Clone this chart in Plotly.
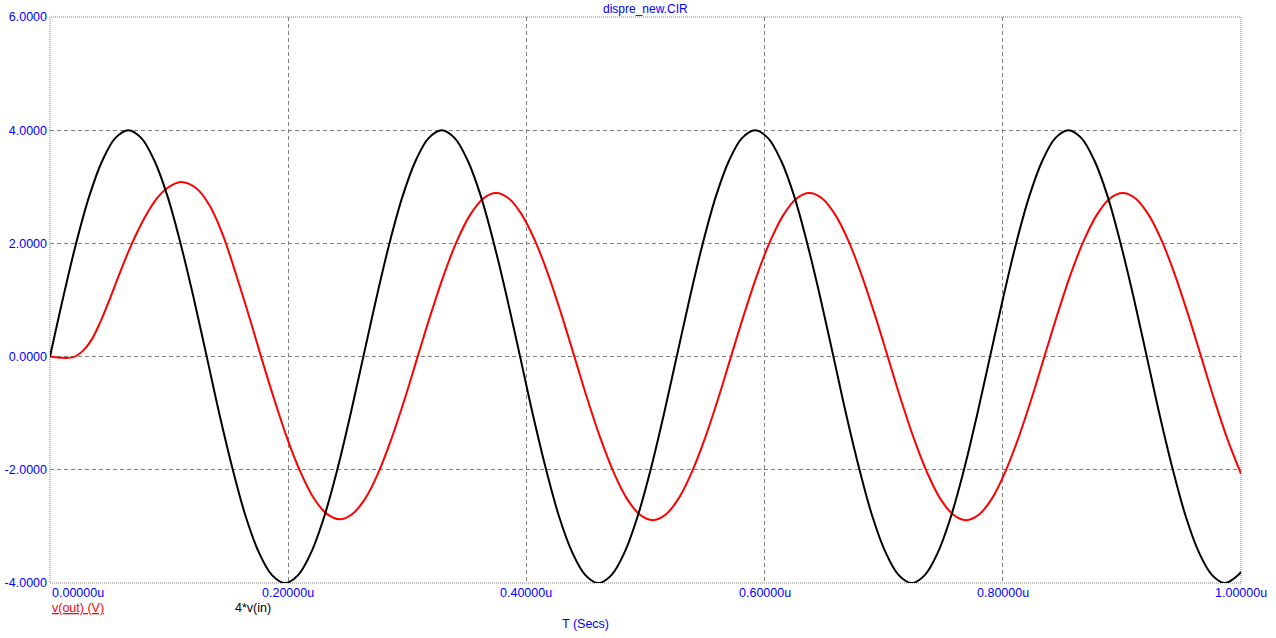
import plotly.graph_objects as go

# ---- data (time in microseconds) ----
vin4_t = [0.0000, 0.0110, 0.0219, 0.0329, 0.0439, 0.0548, 0.0658, 0.0767, 0.0877, 0.0987,
          0.1096, 0.1206, 0.1316, 0.1425, 0.1535, 0.1644, 0.1754, 0.1864, 0.1973, 0.2083,
          0.2193, 0.2302, 0.2412, 0.2521, 0.2631, 0.2741, 0.2850, 0.2960, 0.3070, 0.3179,
          0.3289, 0.3398, 0.3508, 0.3618, 0.3727, 0.3837, 0.3947, 0.4056, 0.4166, 0.4275,
          0.4385, 0.4495, 0.4604, 0.4714, 0.4824, 0.4933, 0.5043, 0.5152, 0.5262, 0.5372,
          0.5481, 0.5591, 0.5701, 0.5810, 0.5920, 0.6029, 0.6139, 0.6249, 0.6358, 0.6468,
          0.6578, 0.6687, 0.6797, 0.6906, 0.7016, 0.7126, 0.7235, 0.7345, 0.7455, 0.7564,
          0.7674, 0.7783, 0.7893, 0.8003, 0.8112, 0.8222, 0.8332, 0.8441, 0.8551, 0.8660,
          0.8770, 0.8880, 0.8989, 0.9099, 0.9209, 0.9318, 0.9428, 0.9537, 0.9647, 0.9757,
          0.9866, 0.9976, 1.0000]
vin4_v = [0.00, 1.04, 2.00, 2.83, 3.46, 3.86, 4.00, 3.86, 3.46, 2.83,
          2.00, 1.04, 0.00, -1.04, -2.00, -2.83, -3.46, -3.86, -4.00, -3.86,
          -3.46, -2.83, -2.00, -1.04, 0.00, 1.04, 2.00, 2.83, 3.46, 3.86,
          4.00, 3.86, 3.46, 2.83, 2.00, 1.04, 0.00, -1.04, -2.00, -2.83,
          -3.46, -3.86, -4.00, -3.86, -3.46, -2.83, -2.00, -1.04, 0.00, 1.04,
          2.00, 2.83, 3.46, 3.86, 4.00, 3.86, 3.46, 2.83, 2.00, 1.04,
          0.00, -1.04, -2.00, -2.83, -3.46, -3.86, -4.00, -3.86, -3.46, -2.83,
          -2.00, -1.04, 0.00, 1.04, 2.00, 2.83, 3.46, 3.86, 4.00, 3.86,
          3.46, 2.83, 2.00, 1.04, 0.00, -1.04, -2.00, -2.83, -3.46, -3.86,
          -4.00, -3.86, -3.80]

vout_t = [0.0000, 0.0084, 0.0196, 0.0280, 0.0350, 0.0420, 0.0504, 0.0588, 0.0672, 0.0728,
          0.0812, 0.0896, 0.0980, 0.1100, 0.1231, 0.1343, 0.1455, 0.1567, 0.1679,
          0.1772, 0.1882, 0.1991, 0.2101, 0.2211, 0.2320, 0.2430, 0.2539, 0.2649, 0.2759,
          0.2868, 0.2978, 0.3087, 0.3197, 0.3307, 0.3416, 0.3526, 0.3636, 0.3745, 0.3855,
          0.3964, 0.4074, 0.4184, 0.4293, 0.4403, 0.4512, 0.4622, 0.4732, 0.4841, 0.4951,
          0.5061, 0.5170, 0.5280, 0.5389, 0.5499, 0.5609, 0.5718, 0.5828, 0.5937, 0.6047,
          0.6157, 0.6266, 0.6376, 0.6486, 0.6595, 0.6705, 0.6814, 0.6924, 0.7034, 0.7143,
          0.7253, 0.7363, 0.7472, 0.7582, 0.7691, 0.7801, 0.7911, 0.8020, 0.8130, 0.8240,
          0.8349, 0.8459, 0.8568, 0.8678, 0.8788, 0.8897, 0.9007, 0.9117, 0.9226, 0.9336,
          0.9445, 0.9555, 0.9665, 0.9774, 0.9884, 1.0000]
vout_v = [0.00, -0.02, -0.01, 0.11, 0.30, 0.60, 1.03, 1.49, 1.92, 2.18,
          2.52, 2.79, 2.97, 3.085, 2.97, 2.66, 2.13, 1.42, 0.66,
          0.00, -0.75, -1.44, -2.03, -2.49, -2.77, -2.875, -2.78, -2.50, -2.04,
          -1.445, -0.75, 0.00, 0.75, 1.445, 2.04, 2.50, 2.79, 2.89, 2.79,
          2.50, 2.04, 1.445, 0.75, 0.00, -0.75, -1.445, -2.04, -2.50, -2.79,
          -2.89, -2.79, -2.50, -2.04, -1.445, -0.75, 0.00, 0.75, 1.445, 2.04,
          2.50, 2.79, 2.89, 2.79, 2.50, 2.04, 1.445, 0.75, 0.00, -0.75,
          -1.445, -2.04, -2.50, -2.79, -2.89, -2.79, -2.50, -2.04, -1.445, -0.75,
          0.00, 0.75, 1.445, 2.04, 2.50, 2.79, 2.89, 2.79, 2.50, 2.04,
          1.445, 0.75, 0.00, -0.75, -1.445, -2.07]

x_ticks = [0.0, 0.2, 0.4, 0.6, 0.8, 1.0]
x_tick_labels = ["0.00000u", "0.20000u", "0.40000u", "0.60000u", "0.80000u", "1.00000u"]
y_ticks = [-4, -2, 0, 2, 4, 6]
y_tick_labels = ["-4.0000", "-2.0000", "0.0000", "2.0000", "4.0000", "6.0000"]

title_text = "dispre_new.CIR"
x_title = "T (Secs)"
name_out = "v(out) (V)"
name_in = "4*v(in)"

FONT = "Arial, Liberation Sans, sans-serif"
BLUE = "#0000FF"
GRID = "#808080"

PLOT_W = 1191.0

fig = go.Figure()
fig.add_trace(go.Scatter(x=vout_t, y=vout_v, mode="lines", name=name_out,
                         line=dict(color="#FF0000", width=2, shape="spline", smoothing=1.0)))
fig.add_trace(go.Scatter(x=vin4_t, y=vin4_v, mode="lines", name=name_in,
                         line=dict(color="#000000", width=2, shape="spline", smoothing=1.0)))

fig.update_layout(
    width=1276, height=638, autosize=False,
    margin=dict(l=50, r=35, t=17, b=55, autoexpand=False),
    paper_bgcolor="white", plot_bgcolor="white",
    showlegend=False,
    font=dict(family=FONT, size=12.5, color=BLUE),
)
fig.update_xaxes(range=[0, 1.0], tickvals=x_ticks, showticklabels=False, automargin=False,
                 showgrid=True, gridcolor=GRID, gridwidth=1, griddash="4px,3px",
                 zeroline=False, showline=False, ticks="")
fig.update_yaxes(range=[-4, 6], tickvals=y_ticks, ticktext=y_tick_labels, automargin=False,
                 showgrid=True, gridcolor=GRID, gridwidth=1, griddash="4px,3px",
                 zeroline=False, showline=False, ticks="", ticklabelstandoff=2,
                 tickfont=dict(family=FONT, size=12.5, color=BLUE))

# plot frame (dotted)
fig.add_shape(type="rect", xref="paper", yref="paper", x0=0, y0=0, x1=1, y1=1,
              line=dict(color=GRID, width=1, dash="1px,1px"), layer="below")

# x tick labels
for i, (xv, lab) in enumerate(zip(x_ticks, x_tick_labels)):
    fig.add_annotation(x=xv, y=0, xref="x", yref="paper", text=lab, showarrow=False,
                       xanchor="left" if i == 0 else "center", yanchor="middle",
                       yshift=-10, font=dict(family=FONT, size=12.5, color=BLUE))

# title
fig.add_annotation(x=0.5, y=1, xref="paper", yref="paper", text=title_text, showarrow=False,
                   xanchor="center", yanchor="middle", yshift=8,
                   font=dict(family=FONT, size=12, color=BLUE))
# x axis title
fig.add_annotation(x=(585 - 50) / PLOT_W, y=0, xref="paper", yref="paper", text=x_title,
                   showarrow=False, xanchor="center", yanchor="middle", yshift=-41,
                   font=dict(family=FONT, size=12.5, color=BLUE))

# legend labels
fig.add_annotation(x=0, y=0, xref="paper", yref="paper", text="<u>" + name_out + "</u>",
                   showarrow=False, xanchor="left", yanchor="middle", yshift=-25,
                   font=dict(family=FONT, size=12.5, color="#FF0000"))
fig.add_annotation(x=(233 - 50) / PLOT_W, y=0, xref="paper", yref="paper", text=name_in,
                   showarrow=False, xanchor="left", yanchor="middle", yshift=-25,
                   font=dict(family=FONT, size=12.5, color="#000000"))

# remove the page's default body margin so the figure sits at the window's corner
fig.write_html("out.html",
               config={"displayModeBar": False},
               post_script="document.body.style.margin='0';document.body.style.overflow='hidden';")
